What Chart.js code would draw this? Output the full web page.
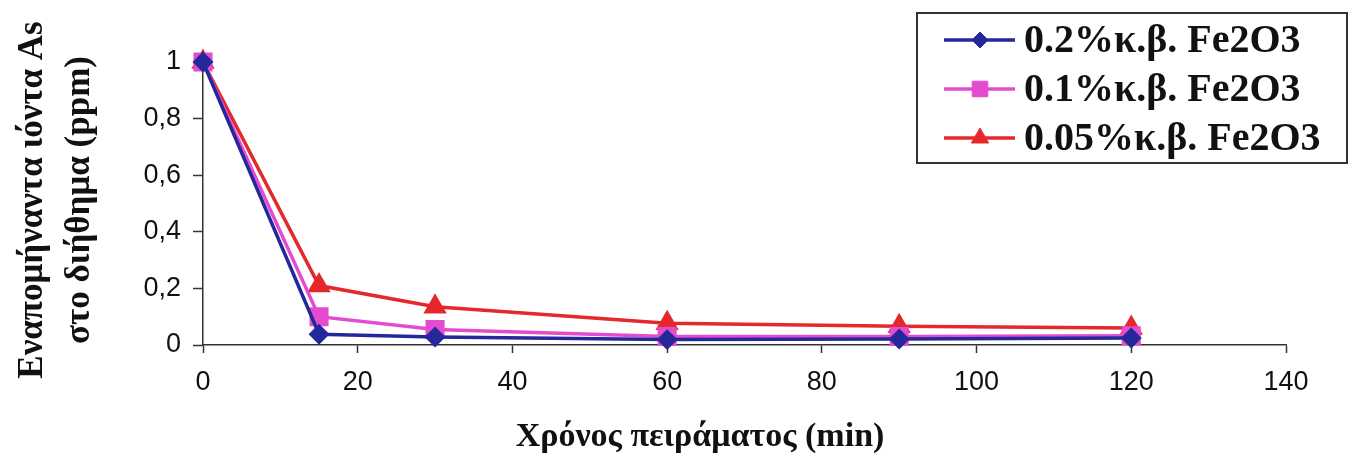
<!DOCTYPE html>
<html>
<head>
<meta charset="utf-8">
<script src="https://cdn.jsdelivr.net/npm/chart.js@4/dist/chart.umd.min.js"></script>
<style>
  html, body { margin: 0; padding: 0; background: #ffffff; }
  canvas { display: block; }
</style>
</head>
<body>
<canvas id="c" width="1353" height="457"></canvas>
<script>
// Sampling times (min)
const times = [0, 15, 30, 60, 90, 120];
// Remaining As ions in the filtrate (ppm) for each Fe2O3 loading
const fe02 = [1, 0.038, 0.028, 0.019, 0.021, 0.025];
const fe01 = [1, 0.1, 0.055, 0.03, 0.03, 0.033];
const fe005 = [1, 0.21, 0.135, 0.077, 0.066, 0.06];
const seriesLabels = ['0.2%κ.β. Fe2O3', '0.1%κ.β. Fe2O3', '0.05%κ.β. Fe2O3'];
const yTicks = [0, 0.2, 0.4, 0.6, 0.8, 1];
const xTicks = [0, 20, 40, 60, 80, 100, 120, 140];
const yTitle = ['Εναπομήναντα ιόντα As', 'στο διήθημα (ppm)'];
const xTitle = 'Χρόνος πειράματος (min)';

const serif = '"Liberation Serif", "DejaVu Serif", serif';
const sans = '"Liberation Sans", Arial, sans-serif';

function pts(vals) { return times.map((t, i) => ({ x: t, y: vals[i] })); }

// Axis titles and boxed legend drawn on top of the chart
const decor = {
  id: 'decor',
  afterDraw(chart) {
    const ctx = chart.ctx;
    ctx.save();
    ctx.fillStyle = '#111';
    ctx.textAlign = 'center';
    ctx.textBaseline = 'middle';
    // y title, rotated, two lines
    ctx.font = 'bold 35px ' + serif;
    ctx.save();
    ctx.translate(33, 200);
    ctx.rotate(-Math.PI / 2);
    ctx.fillText(yTitle[0], 0, 0);
    ctx.restore();
    ctx.save();
    ctx.translate(80, 200);
    ctx.rotate(-Math.PI / 2);
    ctx.fillText(yTitle[1], 0, 0);
    ctx.restore();
    // x title
    ctx.font = 'bold 34px ' + serif;
    ctx.fillText(xTitle, 700, 437);

    // legend box
    ctx.lineWidth = 2;
    ctx.strokeStyle = '#333';
    ctx.strokeRect(917, 13, 430, 150);
    const rows = [40, 89, 138];
    chart.data.datasets.forEach((ds, i) => {
      const y = rows[i];
      ctx.strokeStyle = ds.borderColor;
      ctx.lineWidth = 3.5;
      ctx.beginPath();
      ctx.moveTo(944, y);
      ctx.lineTo(1015, y);
      ctx.stroke();
      ctx.fillStyle = ds.pointBackgroundColor;
      ctx.strokeStyle = ds.pointBorderColor;
      ctx.lineWidth = 1;
      Chart.helpers.drawPoint(ctx, {
        pointStyle: ds.pointStyle,
        radius: ds.pointRadius,
        rotation: 0,
        borderWidth: 1
      }, 980, y);
      ctx.fillStyle = '#111';
      ctx.textAlign = 'left';
      ctx.font = 'bold 40px ' + serif;
      ctx.fillText(ds.label, 1024, y + 2);
    });
    ctx.restore();
  }
};

const mkSet = (label, vals, color, style, r) => ({
  label,
  data: pts(vals),
  borderColor: color,
  backgroundColor: color,
  pointBackgroundColor: color,
  pointBorderColor: color,
  pointStyle: style,
  pointRadius: r,
  pointHoverRadius: r,
  borderWidth: 3.5,
  tension: 0,
  clip: false
});

new Chart(document.getElementById('c'), {
  type: 'line',
  data: {
    datasets: [
      mkSet(seriesLabels[0], fe02, '#24289a', 'rectRot', 8),
      mkSet(seriesLabels[1], fe01, '#e44ccf', 'rect', 11),
      mkSet(seriesLabels[2], fe005, '#e5282c', 'triangle', 10)
    ]
  },
  options: {
    responsive: false,
    animation: false,
    events: [],
    layout: { padding: { left: 0, right: 67, top: 62, bottom: 0 } },
    plugins: { legend: { display: false }, tooltip: { enabled: false }, title: { display: false } },
    scales: {
      x: {
        type: 'linear',
        min: 0, max: 140,
        afterFit(s) { s.height = 112; },
        afterBuildTicks(s) { s.ticks = xTicks.map(v => ({ value: v })); },
        grid: { drawOnChartArea: false, tickLength: 8, color: '#333', tickWidth: 1.5 },
        border: { color: '#333', width: 1.5 },
        ticks: { color: '#111', font: { family: sans, size: 27 }, padding: 13, maxRotation: 0 }
      },
      y: {
        min: 0, max: 1,
        afterFit(s) { s.width = 203; },
        afterBuildTicks(s) { s.ticks = yTicks.map(v => ({ value: v })); },
        grid: { drawOnChartArea: false, tickLength: 10, color: '#333', tickWidth: 1.5 },
        border: { color: '#333', width: 1.5 },
        ticks: {
          color: '#111', font: { family: sans, size: 27 }, padding: 12,
          callback: v => String(v).replace('.', ',')
        }
      }
    }
  },
  plugins: [decor]
});
</script>
</body>
</html>
